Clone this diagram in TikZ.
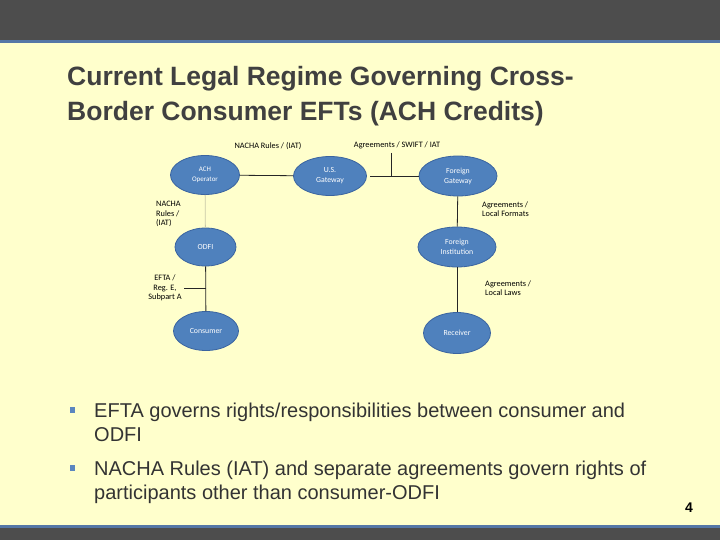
\documentclass[tikz,border=0pt]{standalone}
\usepackage{fontspec}
\setmainfont{Liberation Sans}
\newfontfamily\smallfont{Carlito}
\usetikzlibrary{shapes.geometric}
\definecolor{bgyellow}{HTML}{FFFFCC}
\definecolor{darkband}{HTML}{4D4D4D}
\definecolor{bandblue}{HTML}{5577A6}
\definecolor{nodeblue}{HTML}{4F81BD}
\definecolor{nodeedge}{HTML}{3A64A0}
\definecolor{titlegray}{HTML}{404040}
\definecolor{textgray}{HTML}{333333}
\definecolor{bulletblue}{HTML}{5B86BF}
\definecolor{faintline}{HTML}{C8C8A8}
\begin{document}
\begin{tikzpicture}[x=1pt,y=-1pt,
  party/.style={ellipse,fill=nodeblue,draw=nodeedge,line width=0.8pt,inner sep=0pt,text=white,font=\smallfont\fontsize{7.8}{10}\selectfont,align=center},
  lbl/.style={font=\smallfont\fontsize{8.3}{9.5}\selectfont,text=black,inner sep=0pt},
  link/.style={draw=black!85,line width=0.8pt},
  titleline/.style={anchor=base west,inner sep=0pt,text=titlegray,font=\bfseries\fontsize{26.5}{30}\selectfont},
  bulletline/.style={anchor=base west,inner sep=0pt,text=textgray,font=\fontsize{20}{24}\selectfont},
  bulletmark/.style={fill=bulletblue,minimum size=5.5pt,inner sep=0pt}
]
\useasboundingbox (0,0) rectangle (720,540);
\fill[bgyellow] (0,0) rectangle (720,540);
\fill[darkband] (0,0) rectangle (720,40);
\fill[bandblue] (0,40) rectangle (720,43);
\fill[bandblue] (0,525) rectangle (720,528);
\fill[darkband] (0,528) rectangle (720,540);

\node[titleline] (title1) at (67,86) {Current Legal Regime Governing Cross-};
\node[titleline] (title2) at (67,121) {Border Consumer EFTs (ACH Credits)};

% nodes
\node[party,minimum width=69pt,minimum height=39pt,font=\smallfont\fontsize{7}{10}\selectfont] (ach) at (205,175) {ACH\\Operator};
\node[party,minimum width=73pt,minimum height=39pt] (usg) at (330,176) {U.S.\\Gateway};
\node[party,minimum width=78pt,minimum height=40pt] (fg) at (458,176) {Foreign\\Gateway};
\node[party,minimum width=61pt,minimum height=38pt] (odfi) at (205.5,247) {ODFI};
\node[party,minimum width=78pt,minimum height=40pt] (fi) at (457,247) {Foreign\\Institution};
\node[party,minimum width=65pt,minimum height=39pt] (cons) at (206,331) {Consumer};
\node[party,minimum width=67pt,minimum height=41pt] (recv) at (457,333) {Receiver};

% labels
\node[lbl] (l1) at (268,146) {NACHA Rules / (IAT)};
\node[lbl] (l2) at (397,145) {Agreements / SWIFT / IAT};
\node[lbl,align=left,anchor=west] (l3) at (156,214) {NACHA\\Rules /\\(IAT)};
\node[lbl,align=left,anchor=west] (l4) at (482,209) {Agreements /\\Local Formats};
\node[lbl,align=center] (l5) at (165,288) {EFTA /\\Reg. E,\\Subpart A};
\node[lbl,align=left,anchor=west] (l6) at (485,288) {Agreements /\\Local Laws};

% connectors
\draw[link] (ach) -- (usg);
\coordinate (g1) at (370,176);
\coordinate (g2) at (419,176);
\draw[link] (g1) -- (g2);
\coordinate (t1) at (391,153);
\draw[link] (t1) -- (391,176);
\draw[draw=faintline,line width=0.8pt] (ach) -- (odfi);
\draw[link] (odfi) -- (cons);
\coordinate (t2) at (184,288);
\draw[link] (t2) -- (206,288);
\draw[link] (fg) -- (fi);
\draw[link] (fi) -- (recv);

% bullets
\node[bulletmark] (b1) at (72.5,410) {};
\node[bulletline] (bt1a) at (94,417) {EFTA governs rights/responsibilities between consumer and};
\node[bulletline] (bt1b) at (94,441) {ODFI};
\node[bulletmark] (b2) at (72.5,468) {};
\node[bulletline] (bt2a) at (94,475) {NACHA Rules (IAT) and separate agreements govern rights of};
\node[bulletline] (bt2b) at (94,499) {participants other than consumer-ODFI};

\node[font=\bfseries\fontsize{14}{16}\selectfont,text=black,inner sep=0pt] (pg) at (689,508) {4};
\end{tikzpicture}
\end{document}
